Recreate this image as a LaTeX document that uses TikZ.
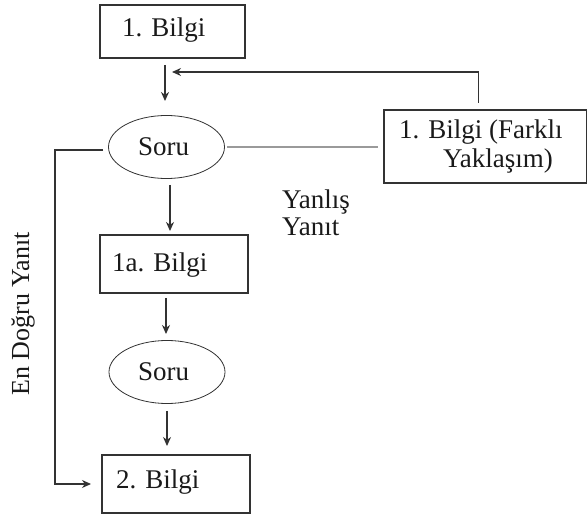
\documentclass[tikz,border=0pt]{standalone}
\usepackage{fontspec}
\setmainfont{Liberation Serif}
\usetikzlibrary{arrows.meta,shapes.geometric}
\definecolor{ink}{HTML}{1A1A1A}
\definecolor{lin}{HTML}{333333}
\definecolor{gline}{HTML}{9A9A9A}
\tikzset{
  boxnode/.style={draw=lin,line width=1.4pt,rectangle,inner sep=0pt},
  ovalnode/.style={draw=lin,line width=0.8pt,ellipse,inner sep=0pt,minimum width=116pt,minimum height=63pt},
  txt/.style={font=\fontsize{27}{29}\selectfont,text=ink,inner sep=0pt,anchor=base west},
  conn/.style={draw=lin,line width=1.4pt},
  arr/.style={conn,-{Stealth[length=9pt,width=8pt]}}
}
\begin{document}
\begin{tikzpicture}[x=1pt,y=-1pt]
\useasboundingbox (0,0) rectangle (587,518);
% boxes
\node[boxnode,minimum width=145pt,minimum height=53pt] (b1) at (172.5,31.5) {};
\node[txt] (t1) at (122,37) {1. Bilgi};
\node[ovalnode] (s1) at (166.5,147) {};
\node[txt] (ts1) at (138,156) {Soru};
\node[boxnode,minimum width=148pt,minimum height=58pt] (b1a) at (174,264) {};
\node[txt] (t1a) at (112,272) {1a. Bilgi};
\node[ovalnode] (s2) at (167,372) {};
\node[txt] (ts2) at (138,381) {Soru};
\node[boxnode,minimum width=148pt,minimum height=58pt] (b2) at (176,484) {};
\node[txt] (t2) at (116,489) {2. Bilgi};
\node[boxnode,minimum width=203pt,minimum height=73pt] (rb) at (485.5,146.5) {};
\node[txt] (trb1) at (399,139) {1. Bilgi (Farklı};
\node[txt] (trb2) at (443,168) {Yaklaşım)};
% labels
\node[txt] (yy1) at (282,209) {Yanlış};
\node[txt] (yy2) at (282,236) {Yanıt};
\node[font=\fontsize{26}{28}\selectfont,text=ink,inner sep=0pt,rotate=90] (edy) at (23,314) {En Doğru Yanıt};
% coordinates
\coordinate (a1s) at (165,65);
\coordinate (a1e) at (165,101);
\coordinate (fbs) at (478.5,103);
\coordinate (fbc) at (478.5,72);
\coordinate (fbe) at (172,72);
\coordinate (gs) at (227,147.5);
\coordinate (ge) at (378,147.5);
\coordinate (ls) at (103,150);
\coordinate (lc1) at (55,150);
\coordinate (lc2) at (55,484);
\coordinate (le) at (91,484);
\coordinate (a2s) at (170,185);
\coordinate (a2e) at (170,231);
\coordinate (a3s) at (166,298);
\coordinate (a3e) at (166,334);
\coordinate (a4s) at (167,411);
\coordinate (a4e) at (167,446);
% connectors
\draw[arr] (a1s) -- (a1e);
\draw[arr] (fbs) -- (fbc) -- (fbe);
\draw[draw=gline,line width=2pt] (gs) -- (ge);
\draw[arr] (ls) -- (lc1) -- (lc2) -- (le);
\draw[arr] (a2s) -- (a2e);
\draw[arr] (a3s) -- (a3e);
\draw[arr] (a4s) -- (a4e);
\end{tikzpicture}
\end{document}
